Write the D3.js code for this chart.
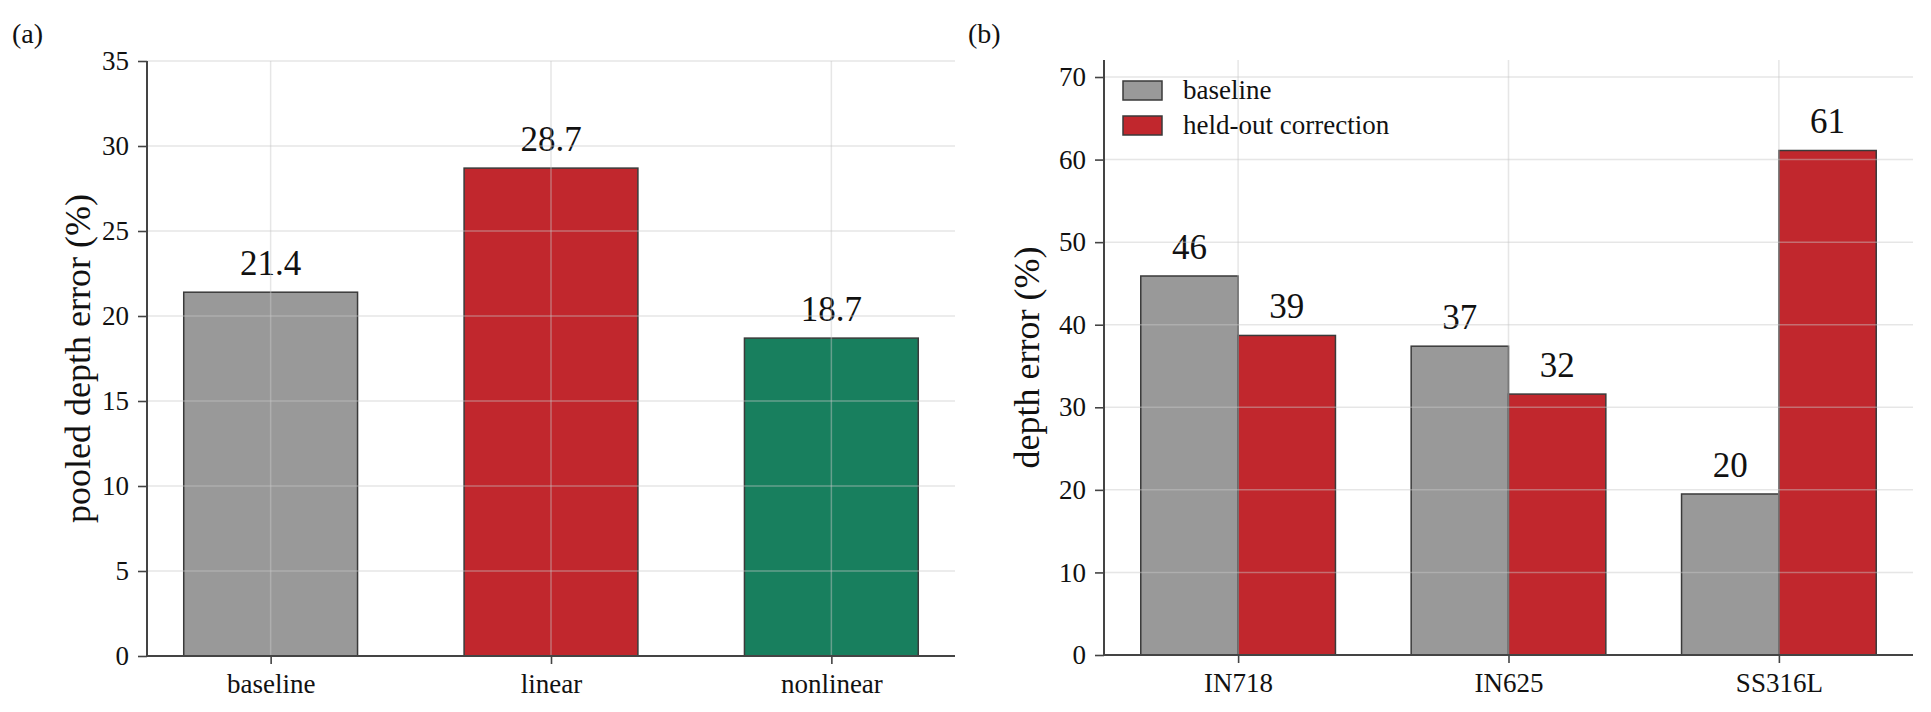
<!DOCTYPE html>
<html>
<head>
<meta charset="utf-8">
<script src="https://cdn.jsdelivr.net/npm/d3@7"></script>
<style>
  body { margin: 0; background: #fff; }
</style>
</head>
<body>
<div id="chart"></div>
<script>
// panel (a) data
const methods = ['baseline', 'linear', 'nonlinear'];
const pooledError = [21.4, 28.7, 18.7];
const methodColors = ['#999999', '#c1272d', '#187f5e'];
const pooledTicks = [0, 5, 10, 15, 20, 25, 30, 35];

// panel (b) data
const alloys = ['IN718', 'IN625', 'SS316L'];
const seriesNames = ['baseline', 'held-out correction'];
const baselineError = [45.9, 37.4, 19.5];
const heldOutError = [38.7, 31.6, 61.1];
const seriesColors = ['#999999', '#c1272d'];
const depthTicks = [0, 10, 20, 30, 40, 50, 60, 70];

const W = 1931, H = 712;
const FONT = '"Liberation Serif", "Times New Roman", Times, serif';
const edge = '#3a3a3a';
const spine = '#444';

const svg = d3.select('#chart')
  .append('svg')
  .attr('width', W)
  .attr('height', H)
  .attr('font-family', FONT);

function label(sel, size) {
  return sel.attr('font-family', FONT).attr('font-size', size).attr('fill', '#111');
}

function styleAxis(g) {
  g.attr('font-family', FONT);
  g.select('.domain').remove();
  g.selectAll('.tick line').attr('stroke', spine).attr('stroke-width', 1.6);
  label(g.selectAll('.tick text'), 27);
}

function drawPanel(p) {
  const x = d3.scaleLinear().domain(p.xDomain).range([p.left, p.right]);
  const y = d3.scaleLinear().domain(p.yDomain).range([p.bottom, p.top]);
  const g = svg.append('g');

  // bars
  p.bars.forEach(b => {
    g.append('rect')
      .attr('x', x(b.pos - p.barWidth / 2))
      .attr('y', y(b.value))
      .attr('width', x(b.pos + p.barWidth / 2) - x(b.pos - p.barWidth / 2))
      .attr('height', y(0) - y(b.value))
      .attr('fill', b.color)
      .attr('stroke', edge)
      .attr('stroke-width', 1.5);
    g.append('text')
      .attr('x', x(b.pos))
      .attr('y', y(b.value) - 17)
      .attr('text-anchor', 'middle')
      .call(label, 35)
      .text(b.label);
  });

  // grid on top of bars, faint
  const grid = g.append('g')
    .attr('stroke', '#c8c8c8')
    .attr('stroke-opacity', 0.45)
    .attr('stroke-width', 1.5);
  p.yTicks.forEach(t => {
    grid.append('line')
      .attr('x1', p.left).attr('x2', p.right)
      .attr('y1', y(t)).attr('y2', y(t));
  });
  p.categories.forEach((c, i) => {
    grid.append('line')
      .attr('x1', x(i)).attr('x2', x(i))
      .attr('y1', p.top).attr('y2', p.bottom);
  });

  // axes
  g.append('g')
    .attr('transform', `translate(${p.left},0)`)
    .call(d3.axisLeft(y).tickValues(p.yTicks).tickSize(9).tickPadding(9))
    .call(styleAxis);
  g.append('g')
    .attr('transform', `translate(0,${p.bottom})`)
    .call(d3.axisBottom(x).tickValues(d3.range(p.categories.length))
      .tickFormat(i => p.categories[i]).tickSize(8).tickPadding(10))
    .call(styleAxis);

  // spines
  g.append('line')
    .attr('x1', p.left).attr('x2', p.left)
    .attr('y1', p.top).attr('y2', p.bottom)
    .attr('stroke', spine).attr('stroke-width', 2);
  g.append('line')
    .attr('x1', p.left).attr('x2', p.right)
    .attr('y1', p.bottom).attr('y2', p.bottom)
    .attr('stroke', spine).attr('stroke-width', 2);

  // y label
  g.append('text')
    .attr('transform', `translate(${p.yLabelX},${(p.top + p.bottom) / 2}) rotate(-90)`)
    .attr('text-anchor', 'middle')
    .attr('dominant-baseline', 'central')
    .call(label, 36)
    .text(p.yLabel);

  // panel tag
  g.append('text')
    .attr('x', p.tagX).attr('y', 43)
    .call(label, 28)
    .text(p.tag);

  return { x, y, g };
}

// panel (a)
drawPanel({
  left: 147, right: 955, top: 61, bottom: 656,
  xDomain: [-0.441, 2.441], yDomain: [0, 35],
  barWidth: 0.62,
  categories: methods,
  yTicks: pooledTicks,
  bars: methods.map((m, i) => ({
    pos: i, value: pooledError[i], color: methodColors[i],
    label: d3.format('.1f')(pooledError[i])
  })),
  yLabel: 'pooled depth error (%)', yLabelX: 78,
  tag: '(a)', tagX: 12
});

// panel (b)
const bw = 0.36;
const barsB = [];
alloys.forEach((a, i) => {
  [baselineError, heldOutError].forEach((s, k) => {
    barsB.push({
      pos: i + (k === 0 ? -bw / 2 : bw / 2),
      value: s[i], color: seriesColors[k],
      label: s[i].toFixed(0)
    });
  });
});
const pb = drawPanel({
  left: 1104, right: 1913, top: 60, bottom: 655,
  xDomain: [-0.496, 2.496], yDomain: [0, 72.06],
  barWidth: bw,
  categories: alloys,
  yTicks: depthTicks,
  bars: barsB,
  yLabel: 'depth error (%)', yLabelX: 1027,
  tag: '(b)', tagX: 968
});

// legend
const legend = pb.g.append('g').attr('transform', 'translate(1123,81)');
seriesNames.forEach((n, k) => {
  const row = legend.append('g').attr('transform', `translate(0,${k * 35})`);
  row.append('rect')
    .attr('width', 39).attr('height', 19)
    .attr('fill', seriesColors[k])
    .attr('stroke', edge).attr('stroke-width', 1.5);
  row.append('text')
    .attr('x', 60).attr('y', 18)
    .call(label, 27)
    .text(n);
});
</script>
</body>
</html>
